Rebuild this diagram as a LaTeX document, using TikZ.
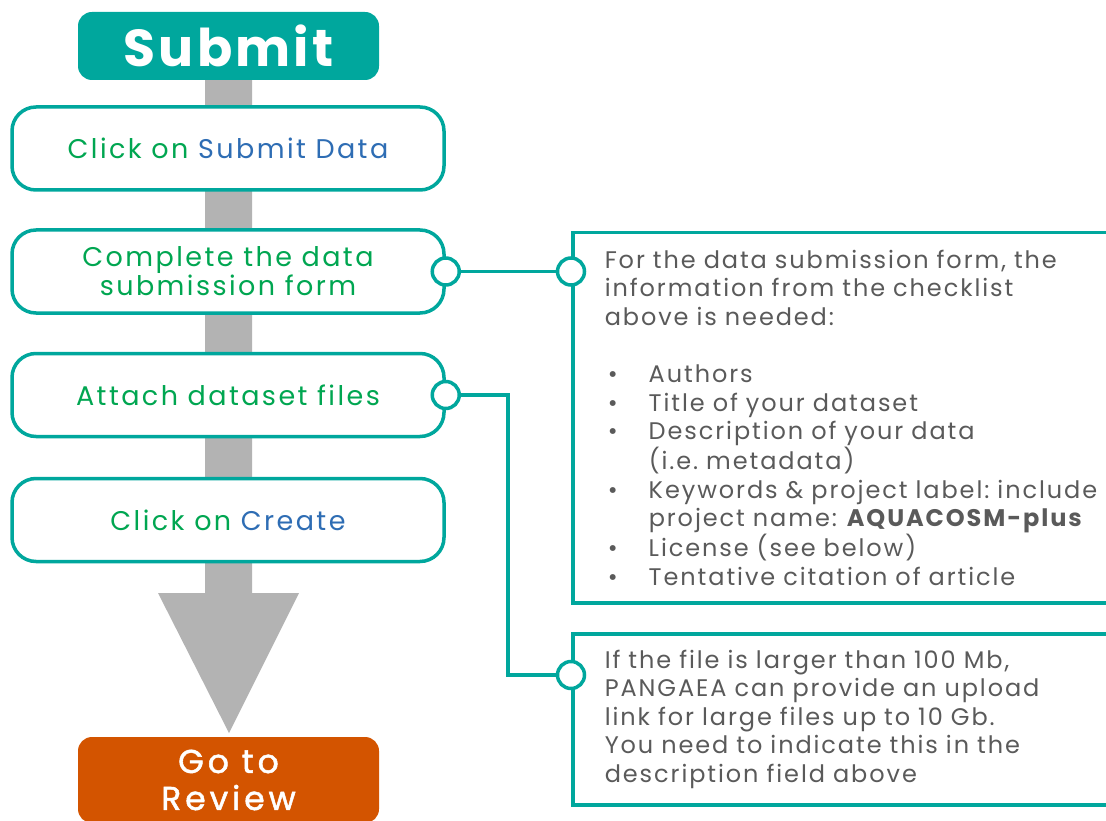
\documentclass[tikz,border=0pt]{standalone}
\usepackage{fontspec}
\setmainfont{Poppins}
\usepackage{xcolor}
\usetikzlibrary{positioning}
\frenchspacing

\definecolor{aqua}{HTML}{00A79D}
\definecolor{leaf}{HTML}{00A651}
\definecolor{navy}{HTML}{2E6DB4}
\definecolor{ink}{HTML}{5A5A5A}
\definecolor{rust}{HTML}{D35400}
\definecolor{pipe}{HTML}{B3B3B3}

\newcommand{\itm}{\makebox[44pt][l]{\hspace{3pt}•}}
\newcommand{\gap}{\hspace*{44pt}}

\begin{document}
\begin{tikzpicture}[x=1pt,y=-1pt,
  head/.style={rounded corners=14pt, minimum width=301pt, text=white, inner sep=0pt, align=center},
  stepbox/.style={draw=aqua, line width=3.5pt, fill=white, rounded corners=24pt,
    minimum width=432pt, minimum height=83pt, text=leaf, align=center,
    font=\fontsize{27}{29}\selectfont\addfontfeatures{LetterSpace=9}},
  knob/.style={circle, draw=aqua, line width=3.5pt, fill=white, minimum size=27pt, inner sep=0pt},
  infobox/.style={draw=aqua, line width=3.5pt, anchor=north west, inner xsep=32pt,
    text width=496pt, align=left, text=ink,
    font=\fontsize{24}{28.6}\selectfont\addfontfeatures{LetterSpace=8}},
  link/.style={draw=aqua, line width=3.5pt}]
%\draw[help lines] (0,0) grid[step=50] (1106,821);
\useasboundingbox (0,0) rectangle (1106,821);

% grey arrow behind the steps
\fill[pipe] (205,80) -- (252,80) -- (252,593) -- (299,593) -- (229,733) -- (158,593) -- (205,593) -- cycle;

\node[head, fill=aqua, minimum height=68pt,
  font=\bfseries\fontsize{52}{52}\selectfont\addfontfeatures{LetterSpace=6}] (submit) at (228.5,46) {Submit};
\node[head, fill=rust, minimum height=86pt,
  font=\fontsize{33}{37}\selectfont\addfontfeatures{FakeBold=1.5,LetterSpace=12}] (review) at (228.5,780) {Go to\\Review};

\node[stepbox] (s1) at (228,148.5) {Click on \textcolor{navy}{Submit Data}};
\node[stepbox] (s2) at (228,271.5) {Complete the data\\submission form};
\node[stepbox] (s3) at (228,395) {Attach dataset files};
\node[stepbox] (s4) at (228,520) {Click on \textcolor{navy}{Create}};

\node[infobox, minimum height=370pt] (i1) at (571,231) {For the data submission form, the\\
  information from the checklist\\
  above is needed:\\[28.6pt]
  \itm Authors\\
  \itm Title of your dataset\\
  \itm Description of your data\\
  \gap (i.e. metadata)\\
  \itm Keywords \& project label: include\\
  \gap project name: \textbf{AQUACOSM-plus}\\
  \itm License (see below)\\
  \itm Tentative citation of article};
\node[infobox, minimum height=171pt] (i2) at (571,632) {If the file is larger than 100 Mb,\\
  PANGAEA can provide an upload\\
  link for large files up to 10 Gb.\\
  You need to indicate this in the\\
  description field above};

\coordinate (k1) at (i1.west |- s2);
\coordinate (k2) at (571,675);
\coordinate (bend) at (508,675);

\draw[link] (s2.east) -- (k1);
\draw[link] (s3.east) -| (bend) -- (k2);

\node[knob] (c2) at (s2.east) {};
\node[knob] (c3) at (s3.east) {};
\node[knob] (d1) at (k1) {};
\node[knob] (d2) at (k2) {};
\end{tikzpicture}
\end{document}
